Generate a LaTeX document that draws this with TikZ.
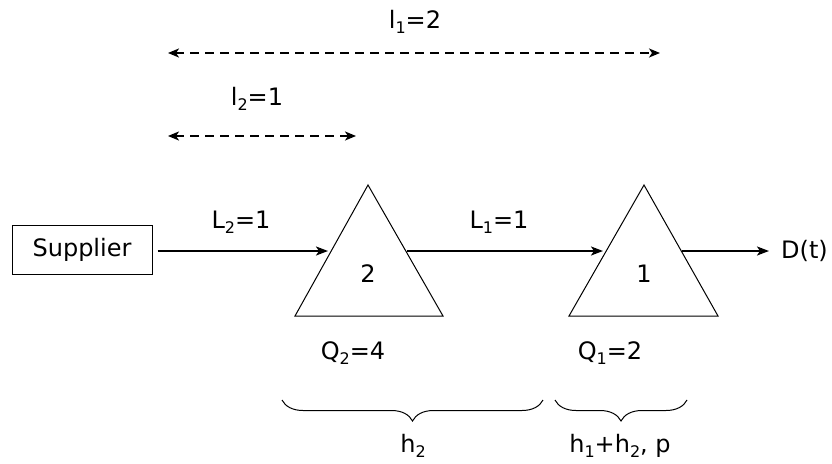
\documentclass[tikz,border=0pt]{standalone}
\usepackage{fontspec}
\setmainfont{DejaVu Sans}
\usetikzlibrary{arrows.meta,decorations.pathreplacing}
\newcommand\sbs[1]{\raisebox{-5pt}{\fontsize{16}{16}\selectfont #1}}
\tikzset{
  lbl/.style={anchor=base,inner sep=0pt,font=\fontsize{24}{28}\selectfont},
  arr/.style={line width=2pt,-{Stealth[length=12pt,width=9pt,inset=3pt]}},
  darr/.style={line width=1.9pt,dash pattern=on 9pt off 6pt,{Stealth[length=11pt,width=9pt,inset=3pt]}-{Stealth[length=11pt,width=9pt,inset=3pt]}},
  tri/.style={line width=1pt},
  brc/.style={line width=1pt,decorate,decoration={brace,mirror,amplitude=21pt}},
}
\begin{document}
\begin{tikzpicture}[x=1pt,y=-1pt]
\useasboundingbox (0,0) rectangle (832,463);
% supplier
\node[draw,line width=1pt,minimum width=140pt,minimum height=49pt,inner sep=0pt,font=\fontsize{24}{28}\selectfont] (sup) at (82,249.5) {Supplier};
% triangle 2
\coordinate (t2a) at (368,185);
\coordinate (t2l) at (295,316);
\coordinate (t2r) at (443,316);
\draw[tri] (t2a) -- (t2l) -- (t2r) -- cycle;
\coordinate (t2in) at (330,251);
\coordinate (t2out) at (407,251);
% triangle 1
\coordinate (t1a) at (644,185);
\coordinate (t1l) at (569,316);
\coordinate (t1r) at (718,316);
\draw[tri] (t1a) -- (t1l) -- (t1r) -- cycle;
\coordinate (t1in) at (605,251);
\coordinate (t1out) at (682,251);
% numbers
\node[lbl] (n2) at (368,282) {2};
\node[lbl] (n1) at (644,282) {1};
% demand
\node[lbl,anchor=base west] (dem) at (781,258) {D(t)};
% flow arrows
\draw[arr,shorten <=5pt,shorten >=2pt] (sup.east |- t2in) -- (t2in);
\draw[arr,shorten >=2pt] (t2out) -- (t1in);
\draw[arr,shorten >=12pt] (t1out) -- (dem.west |- t1out);
% labels
\node[lbl] (L2) at (241,228) {L\sbs{2}=1};
\node[lbl] (L1) at (499,228) {L\sbs{1}=1};
\node[lbl] (l1) at (415,28) {l\sbs{1}=2};
\node[lbl] (l2) at (257,105) {l\sbs{2}=1};
\node[lbl] (Q2) at (353,359) {Q\sbs{2}=4};
\node[lbl] (Q1) at (610,359) {Q\sbs{1}=2};
% dashed lead-time arrows
\coordinate (d1a) at (168,53);
\coordinate (d1b) at (660,53);
\coordinate (d2a) at (168,136);
\coordinate (d2b) at (356,136);
\draw[darr] (d1a) -- (d1b);
\draw[darr] (d2a) -- (d2b);
% braces
\coordinate (b1a) at (282,400);
\coordinate (b1b) at (543,400);
\coordinate (b2a) at (555,400);
\coordinate (b2b) at (687,400);
\draw[brc] (b1a) -- (b1b);
\draw[brc] (b2a) -- (b2b);
\node[lbl] (h2) at (413,452) {h\sbs{2}};
\node[lbl] (h12) at (620,452) {h\sbs{1}+h\sbs{2}, p};
\end{tikzpicture}
\end{document}
